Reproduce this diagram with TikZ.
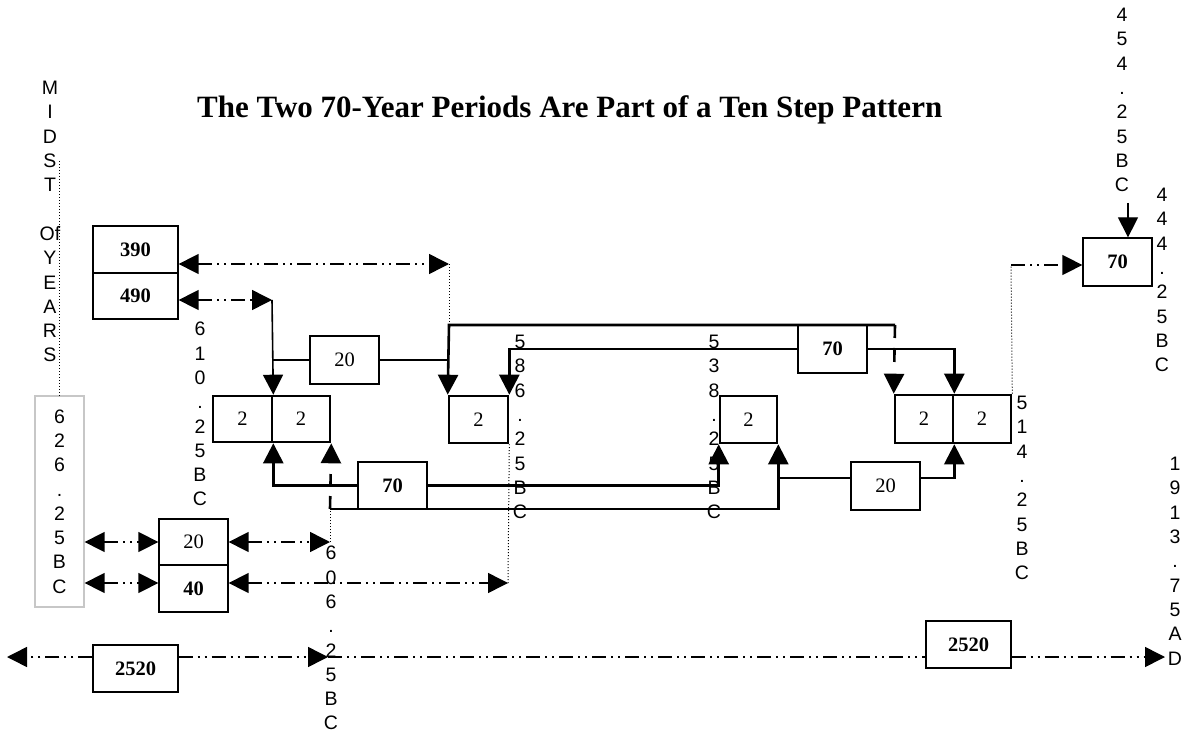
\documentclass[tikz,border=0pt]{standalone}
\usepackage{fontspec}
\setmainfont{Liberation Serif}
\setsansfont{Liberation Sans}
\usetikzlibrary{arrows.meta,calc}
\newcommand\labfont{\sffamily\fontsize{19.5}{24.3}\selectfont}
\newcommand\boxfont{\fontsize{20.5}{24}\selectfont}
\tikzset{
  Tp/.tip={Triangle[length=20pt,width=20pt]},
  thinbox/.style={draw, line width=1.3pt, inner sep=0, font=\boxfont},
  thickbox/.style={draw, line width=2.6pt, inner sep=0, font=\boxfont},
  conn/.style={line width=2.6pt},
  midline/.style={line width=1.6pt},
  dd/.style={line width=1.5pt, dash pattern=on 14pt off 5pt on 2pt off 5pt on 2pt off 5pt},
  dots/.style={line width=1pt, dash pattern=on 1pt off 2pt},
  lab/.style={align=center, inner sep=0, font=\labfont, anchor=north},
}
\begin{document}
\begin{tikzpicture}[x=1pt,y=-1pt]
\useasboundingbox (0,0) rectangle (1185,735);

% title
\node[anchor=base west, inner sep=0, font=\bfseries\fontsize{31}{36}\selectfont] (title) at (197,118) {The Two 70-Year Periods Are Part of a Ten Step Pattern};

% labels
\node[lab] (midst) at (50,81) {M\\I\\D\\S\\T\\{}\\Of\\Y\\E\\A\\R\\S};
\node[lab] (d610) at (200,322) {6\\1\\0\\.\\2\\5\\B\\C};
\node[lab] (d586) at (520,335) {5\\8\\6\\.\\2\\5\\B\\C};
\node[lab] (d538) at (714,335) {5\\3\\8\\.\\2\\5\\B\\C};
\node[lab] (d514) at (1022,396) {5\\1\\4\\.\\2\\5\\B\\C};
\node[lab] (d454) at (1122,8) {4\\5\\4\\.\\2\\5\\B\\C};
\node[lab] (d444) at (1162,188) {4\\4\\4\\.\\2\\5\\B\\C};
\node[lab] (d606) at (331,546) {6\\0\\6\\.\\2\\5\\B\\C};
\node[lab] (d1913) at (1175,457) {1\\9\\1\\3\\.\\7\\5\\A\\D};

% grey box with date
\node[draw=black!22, line width=1.3pt, minimum width=49, minimum height=211, inner sep=0, align=center, font=\labfont] (g) at (59.5,501.5) {6\\2\\6\\.\\2\\5\\B\\C};

% boxes
\node[thinbox, minimum width=85, minimum height=47] (b390) at (135.5,249.5) {\textbf{390}};
\node[thinbox, minimum width=85, minimum height=46] (b490) at (135.5,296) {\textbf{490}};
\node[thickbox, minimum width=69, minimum height=48] (u20) at (344.5,360) {20};
\node[thickbox, minimum width=59, minimum height=46] (L2a) at (242.5,419) {2};
\node[thickbox, minimum width=58, minimum height=46] (L2b) at (301,419) {2};
\node[thickbox, minimum width=59, minimum height=47] (M2) at (478.5,419.5) {2};
\node[thickbox, minimum width=57, minimum height=47] (N2) at (748.5,419.5) {2};
\node[thickbox, minimum width=58, minimum height=48] (R2a) at (924,419) {2};
\node[thickbox, minimum width=58, minimum height=48] (R2b) at (982,419) {2};
\node[thickbox, minimum width=69, minimum height=48] (t70) at (832.5,349) {\textbf{70}};
\node[thickbox, minimum width=69, minimum height=47] (l70) at (392.5,485.5) {\textbf{70}};
\node[thickbox, minimum width=69, minimum height=48] (r20) at (885.5,486) {20};
\node[thinbox, minimum width=69, minimum height=48] (tr70) at (1117.5,262) {\textbf{70}};
\node[thinbox, minimum width=69, minimum height=46] (b20) at (193.5,542) {20};
\node[thinbox, minimum width=69, minimum height=47] (b40) at (193.5,588.5) {\textbf{40}};
\node[thinbox, minimum width=85, minimum height=47] (bl2520) at (135.5,668.5) {\textbf{2520}};
\node[thinbox, minimum width=85, minimum height=47] (br2520) at (968.5,644.5) {\textbf{2520}};

% coordinates
\coordinate (c390) at (449,264);
\coordinate (c490) at (272,300);
\coordinate (tl) at (449,325);
\coordinate (tr) at (895,325);
\coordinate (bl) at (330,509);
\coordinate (j1) at (777,478);
\coordinate (c20) at (330,542);
\coordinate (c40) at (508,583);
\coordinate (mt) at (59.5,161);
\coordinate (lt) at (7,657);
\coordinate (mid) at (328,657);
\coordinate (rt) at (1165,657);
\coordinate (d10) at (1011,265);
\coordinate (a454) at (1128,203);

% upper-left arrows
\draw[dd,Tp-Tp] (b390.east |- c390) -- (c390);
\draw[dots] (c390) -- (tl);
\draw[dd,Tp-Tp] (b490.east |- c490) -- (c490);
\draw[midline,-Tp] (c490) -- (L2a.north east);
\draw[conn] (u20.west) -- (u20.west -| c490);
\draw[conn] (u20.east) -- (u20.east -| tl);

% top long lines
\draw[conn,-Tp] (tr) -- (tl) -- (M2.north west);
\draw[conn,dash pattern=on 13pt off 10pt on 14pt off 14pt,-Tp] (tr) -- (R2a.north west);
\draw[conn,-Tp] (t70.west) -| (M2.north east);
\draw[conn,-Tp] (t70.east) -| (R2a.north east);

% lower lines
\draw[conn,-Tp] (l70.west) -| (L2a.south east);
\draw[conn,-Tp] (l70.east) -| (N2.south west);
\draw[conn,-Tp] (bl) -| (N2.south east);
\draw[conn,dash pattern=on 13pt off 11pt on 11pt off 12pt,-Tp] (bl) -- (L2b.south east);
\draw[dots] (c20) -- (bl);
\draw[conn] (j1) -- (j1 -| r20.west);
\draw[conn,-Tp] (j1 -| r20.east) -| (R2a.south east);

% lower-left arrows
\draw[dd,Tp-Tp] (g.east |- c20) -- (b20.west);
\draw[dd,Tp-Tp] (b20.east) -- (c20);
\draw[dd,Tp-Tp] (g.east |- c40) -- (b40.west |- c40);
\draw[dd,Tp-Tp] (b40.east |- c40) -- (c40);
\draw[dots] (c40) -- (M2.south east);
\draw[dots] (mt) -- (g.north);

% bottom timeline
\draw[dd,-Tp] (bl2520.west |- lt) -- (lt);
\draw[dd,-Tp] (bl2520.east |- lt) -- (mid);
\draw[dd] (mid) -- (br2520.west |- mid);
\draw[dd,-Tp] (br2520.east |- mid) -- (rt);

% top right
\draw[dots] (R2b.north east) -- (d10);
\draw[dd,-Tp] (d10) -- (tr70.west |- d10);
\draw[line width=1.3pt,-Tp] (a454) -- (a454 |- tr70.north);
\end{tikzpicture}
\end{document}
